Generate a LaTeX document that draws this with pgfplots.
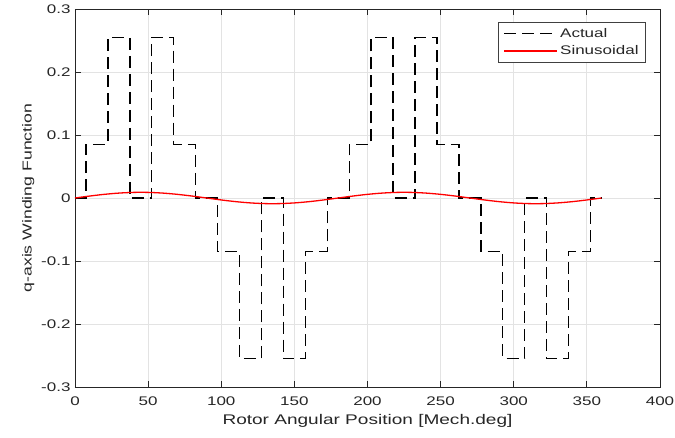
\documentclass[border=0pt]{standalone}
\usepackage{pgfplots}
\pgfplotsset{compat=1.18}
\usepackage{fontspec}
\setmainfont[FakeStretch=1.36]{Liberation Sans}
\begin{document}
\begin{tikzpicture}
\useasboundingbox (-75pt,-50pt) rectangle (600pt,387pt);
\begin{axis}[
  at={(0,0)}, anchor=south west,
  scale only axis,
  width=585pt, height=378pt,
  xmin=0, xmax=400, ymin=-0.3, ymax=0.3,
  xtick={0,50,...,400},
  ytick={-0.3,-0.2,...,0.3},
  yticklabels={-0.3,-0.2,-0.1,0,0.1,0.2,0.3},
  /pgf/number format/assume math mode=true,
  tick label style={font=\fontsize{12.5}{14}\selectfont, color=black!85},
  xticklabel style={yshift=-6pt},
  yticklabel style={xshift=-1pt},
  label style={font=\fontsize{14}{16}\selectfont, color=black!85},
  xlabel={Rotor Angular Position [Mech.deg]},
  ylabel={q-axis Winding Function},
  xlabel style={yshift=-2pt},
  ylabel style={font=\fontsize{13}{15}\selectfont, yshift=0pt},
  grid=major,
  grid style={gray!22, line width=0.8pt},
  axis line style={black!85, line width=0.9pt},
  tick style={black!85, line width=0.9pt},
  tick align=inside,
  major tick length=6pt,
  legend style={at={(0.976,0.966)}, anchor=north east, font=\fontsize{12.5}{14}\selectfont, text=black!85, draw=black!75, line width=0.7pt, inner xsep=5pt, inner ysep=4pt, row sep=3pt, legend cell align=left},
  legend image code/.code={\draw[#1] (0pt,0pt) -- (53pt,0pt);},
]
\addplot[black, line width=1.4pt, dash pattern=on 12pt off 6pt, const plot] coordinates {
(0,0) (7.5,0.085) (22.5,0.255) (37.5,0) (52.5,0.255) (67.5,0.085) (82.5,0)
(97.5,-0.085) (112.5,-0.255) (127.5,0) (142.5,-0.255) (157.5,-0.085) (172.5,0)
(187.5,0.085) (202.5,0.255) (217.5,0) (232.5,0.255) (247.5,0.085) (262.5,0)
(277.5,-0.085) (292.5,-0.255) (307.5,0) (322.5,-0.255) (337.5,-0.085) (352.5,0) (360,0)
};
\addlegendentry{Actual}
\addplot[red, line width=1.3pt, smooth] coordinates {
(0,0) (10,0.0031) (20,0.0058) (30,0.0078) (40,0.0089) (50,0.0089) (60,0.0078) (70,0.0058) (80,0.0031)
(90,0) (100,-0.0031) (110,-0.0058) (120,-0.0078) (130,-0.0089) (140,-0.0089) (150,-0.0078) (160,-0.0058) (170,-0.0031)
(180,0) (190,0.0031) (200,0.0058) (210,0.0078) (220,0.0089) (230,0.0089) (240,0.0078) (250,0.0058) (260,0.0031)
(270,0) (280,-0.0031) (290,-0.0058) (300,-0.0078) (310,-0.0089) (320,-0.0089) (330,-0.0078) (340,-0.0058) (350,-0.0031) (360,0)
};
\addlegendentry{Sinusoidal}
\end{axis}
\end{tikzpicture}
\end{document}
